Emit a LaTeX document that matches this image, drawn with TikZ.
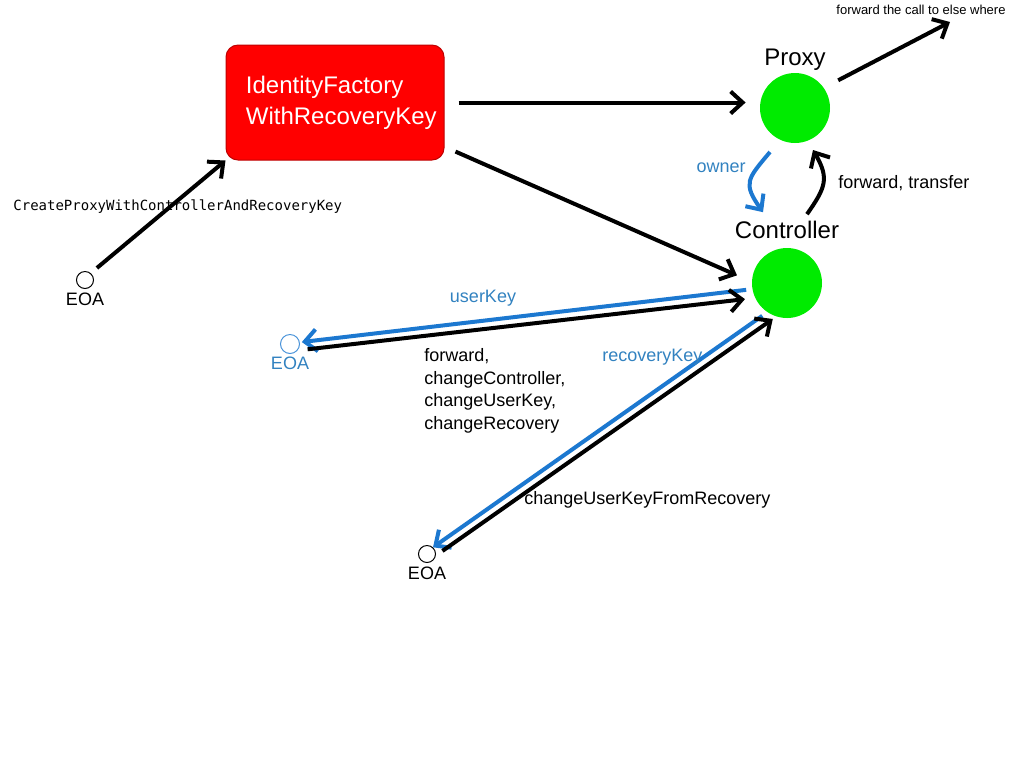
\documentclass[tikz,border=0pt]{standalone}
\usepackage{fontspec}
\setmainfont{Liberation Sans}
\newfontfamily\codefont{DejaVu Sans Mono}
\usepackage{tikz}
\usetikzlibrary{arrows.meta, positioning}
\definecolor{factoryred}{RGB}{255, 0, 0}
\definecolor{livegreen}{RGB}{0, 235, 0}
\definecolor{keyblue}{RGB}{28, 120, 208}
\definecolor{keytext}{RGB}{50, 130, 192}

\begin{document}
\begin{tikzpicture}[
  x=0.5pt, y=-0.5pt,
  conn/.style={-{Straight Barb[length=6pt,width=11pt]}, line width=2pt, color=black},
  keyconn/.style={conn, color=keyblue},
  account/.style={circle, draw, line width=0.5pt, minimum size=8.5pt, inner sep=0pt},
  contract/.style={circle, fill=livegreen, minimum size=35pt, inner sep=0pt},
  factorybox/.style={rectangle, rounded corners=6pt, fill=factoryred, draw=factoryred!75!black,
               line width=0.5pt, minimum width=109pt, minimum height=57.5pt},
  nodename/.style={font=\fontsize{12}{14}\selectfont, inner sep=1pt},
  lbl/.style={font=\fontsize{9}{11.3}\selectfont, inner sep=1pt},
  keylbl/.style={lbl, text=keytext}
]
\useasboundingbox (0,0) rectangle (1024,768);

% contracts
\node[factorybox] (factory) at (335,102.5) {};
\node[font=\fontsize{12}{15.5}\selectfont, text=white, align=left, inner sep=0pt,
      right=10pt of factory.west, anchor=west] (factorytext) {IdentityFactory\\WithRecoveryKey};
\node[contract] (proxy) at (795,108) {};
\node[nodename, above=0pt of proxy] (proxytext) {Proxy};
\node[contract] (controller) at (787,283) {};
\node[nodename, above=3pt of controller] (ctrltext) {Controller};

% accounts
\node[account] (eoaA) at (85,280) {};
\node[lbl, below=1pt of eoaA] (eoaAtext) {EOA};
\node[account, draw=keyblue!80, minimum size=9.5pt] (eoaB) at (290,344) {};
\node[keylbl, below=0.5pt of eoaB] (eoaBtext) {EOA};
\node[account] (eoaC) at (427,554) {};
\node[lbl, below=1pt of eoaC] (eoaCtext) {EOA};

% creation
\node[font=\codefont\fontsize{7}{8}\selectfont, anchor=west, inner sep=0pt] (createlbl) at (13,207) {CreateProxyWithControllerAndRecoveryKey};
\draw[conn, shorten <=4pt] (eoaA.50) -- (factory.south west);
\draw[conn, shorten <=7pt, shorten >=7pt] (factory.east) -- (factory.east -| proxy.west);
\draw[conn, shorten <=6pt, shorten >=8pt] (factory.-22) -- (controller.178);

% proxy out
\coordinate (elsewhere) at (950,22);
\draw[conn, shorten <=8pt] (proxy.35) -- (elsewhere);
\node[font=\fontsize{6.5}{8}\selectfont, inner sep=0pt] (calltext) at (921,10) {forward the call to else where};

% proxy <-> controller
\draw[keyconn] ([shift={(-25,44)}]proxy.center) to[out=230, in=125, looseness=1.5] ([shift={(-24,-7)}]ctrltext.north);
\node[keylbl, anchor=east] (ownerlbl) at (748,168) {owner};
\draw[conn] ([shift={(20,-5)}]ctrltext.north) to[out=55, in=-60, looseness=1.3] ([shift={(18,42)}]proxy.center);
\node[lbl, anchor=west] (fwdlbl) at (836,183) {forward, transfer};

% user key
\draw[keyconn, shorten <=3pt, shorten >=1pt] (controller.190) -- (eoaB.10);
\node[keylbl] (userlbl) at (483,298) {userKey};
\draw[conn, shorten <=5pt, shorten >=5pt] (eoaB.-40) -- (controller.205);
\node[lbl, anchor=north west, align=left, inner sep=0pt] (calls) at (424,348) {forward,\\changeController,\\changeUserKey,\\changeRecovery};

% recovery key
\draw[keyconn, shorten <=3pt] (controller.236) -- (eoaC.48);
\node[keylbl, anchor=west] (recoverylbl) at (600,357) {recoveryKey};
\draw[conn, shorten <=4pt, shorten >=2pt] (eoaC.-10) -- (controller.252);
\node[lbl, anchor=west] (fromrecovery) at (522,500) {changeUserKeyFromRecovery};

\end{tikzpicture}
\end{document}
